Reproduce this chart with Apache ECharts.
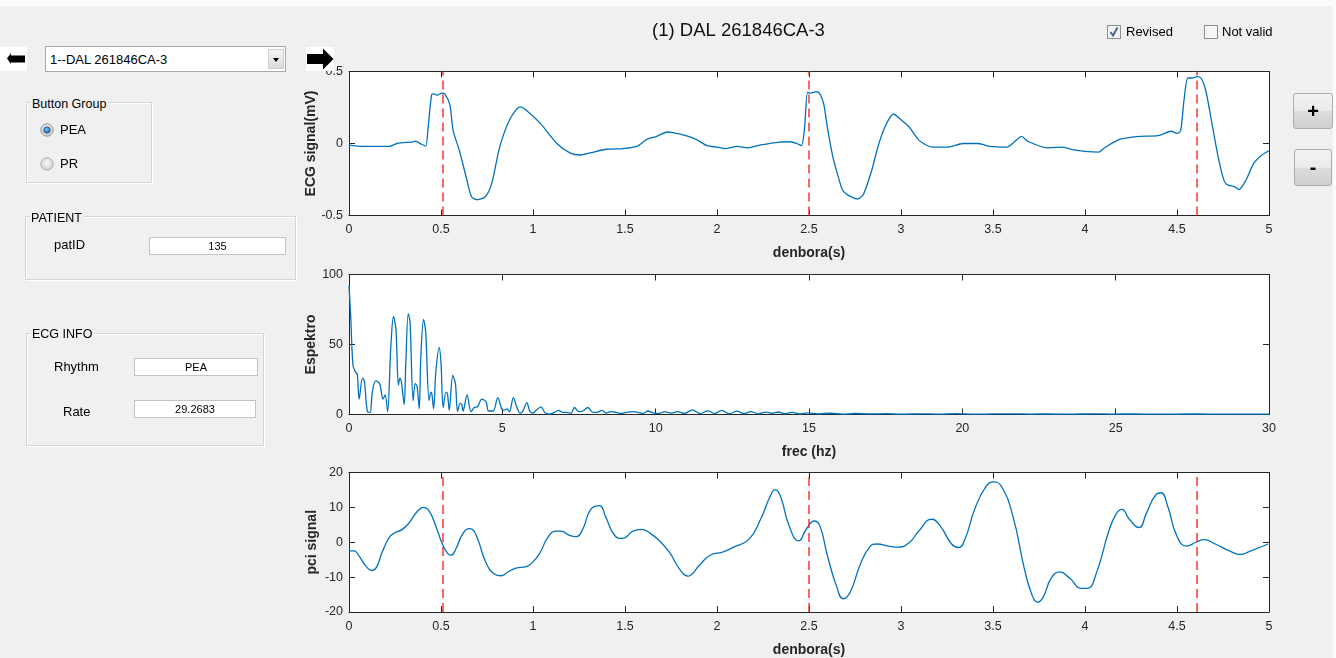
<!DOCTYPE html>
<html>
<head>
<meta charset="utf-8">
<title>(1) DAL 261846CA-3</title>
<script src="https://cdn.jsdelivr.net/npm/echarts@6/dist/echarts.min.js"></script>
<style>
  html, body { margin: 0; padding: 0; }
  body { width: 1336px; height: 658px; background: #f0f0f0; position: relative; overflow: hidden;
         font-family: "Liberation Sans", Arial, sans-serif; color: #000; }
  #chart { position: absolute; left: 0; top: 0; width: 1336px; height: 658px; }
  .w { position: absolute; z-index: 2; }
  .topstrip { left: 0; top: 0; width: 1336px; height: 6px; background: #fbfbfb; }
  .rightstrip { right: 0; top: 0; width: 3px; height: 658px; background: #fbfbfb; }
  .panel { border: 1px solid #d5d5d5; box-shadow: inset 1px 1px 0 #ffffff, 1px 1px 0 #ffffff; }
  .ptitle { font-size: 12.5px; background: #f0f0f0; padding: 0 2px 0 1px; line-height: 14px; }
  .lbl { font-size: 13px; line-height: 16px; }
  .edit { background: #fff; border: 1px solid #c3c3c3; font-size: 11px; text-align: center; box-sizing: border-box; }
  .dd { background: #fff; border: 1px solid #a9a9a9; box-sizing: border-box; font-size: 13px; }
  .ddbtn { position: absolute; right: 1px; top: 2px; width: 16px; height: 20px; box-sizing: border-box;
           background: linear-gradient(#f4f4f4, #dcdcdc); border: 1px solid #cfcfcf; }
  .btn { box-sizing: border-box; border: 1px solid #adadad; border-radius: 3px;
         background: linear-gradient(#f2f2f2 0%, #ebebeb 50%, #dddddd 51%, #cfcfcf 100%);
         font-weight: bold; text-align: center; color: #000; }
</style>
</head>
<body>
<div id="chart"></div>

<div class="w topstrip"></div>
<div class="w rightstrip"></div>

<!-- record navigation -->
<svg class="w" style="left:0;top:47px" width="27" height="24">
  <rect x="0" y="0" width="27" height="24" fill="#ffffff"/>
  <polygon points="7,11.5 11,6 11,8.5 25,8.5 25,15.5 11,15.5 11,17" fill="#000"/>
</svg>
<div class="w dd" style="left:45px;top:46px;width:241px;height:26px;">
  <span style="position:absolute;left:4px;top:4px;line-height:17px;">1--DAL 261846CA-3</span>
  <div class="ddbtn">
    <svg width="14" height="18"><polygon points="4,8 10,8 7,12" fill="#000"/></svg>
  </div>
</div>
<svg class="w" style="left:306px;top:47px" width="28" height="24">
  <rect x="0" y="0" width="28" height="24" fill="#ffffff"/>
  <polygon points="1,7 17,7 17,1.5 27.5,12 17,22.5 17,17 1,17" fill="#000"/>
</svg>

<!-- rhythm selection -->
<div class="w panel" style="left:26px;top:102px;width:124px;height:79px;"></div>
<div class="w ptitle" style="left:31px;top:97px;">Button Group</div>
<svg class="w" style="left:40px;top:123px" width="14" height="14">
  <defs>
    <radialGradient id="rg" cx="0.5" cy="0.4" r="0.6"><stop offset="0" stop-color="#f8f8f8"/><stop offset="1" stop-color="#cfcfcf"/></radialGradient>
    <radialGradient id="dot" cx="0.45" cy="0.4" r="0.6"><stop offset="0" stop-color="#7fc4ff"/><stop offset="1" stop-color="#1a5fa8"/></radialGradient>
  </defs>
  <circle cx="7" cy="7" r="6.2" fill="url(#rg)" stroke="#8a8a8a" stroke-width="0.9"/>
  <circle cx="7" cy="7" r="3.3" fill="url(#dot)" stroke="#23476f" stroke-width="0.6"/>
</svg>
<div class="w lbl" style="left:60px;top:122px;">PEA</div>
<svg class="w" style="left:40px;top:157px" width="14" height="14">
  <circle cx="7" cy="7" r="6.2" fill="url(#rg)" stroke="#a8a8a8" stroke-width="0.9"/>
</svg>
<div class="w lbl" style="left:60px;top:156px;">PR</div>

<!-- patient -->
<div class="w panel" style="left:25px;top:216px;width:269px;height:62px;"></div>
<div class="w ptitle" style="left:30px;top:211px;">PATIENT</div>
<div class="w lbl" style="left:54px;top:237px;">patID</div>
<div class="w edit" style="left:149px;top:237px;width:137px;height:18px;line-height:16px;">135</div>

<!-- ECG info -->
<div class="w panel" style="left:26px;top:333px;width:236px;height:111px;"></div>
<div class="w ptitle" style="left:31px;top:327px;">ECG INFO</div>
<div class="w lbl" style="left:54px;top:359px;">Rhythm</div>
<div class="w edit" style="left:134px;top:358px;width:124px;height:18px;line-height:16px;">PEA</div>
<div class="w lbl" style="left:63px;top:404px;">Rate</div>
<div class="w edit" style="left:134px;top:400px;width:122px;height:18px;line-height:16px;">29.2683</div>

<!-- review flags -->
<svg class="w" style="left:1107px;top:25px" width="15" height="15">
  <rect x="0.5" y="0.5" width="13" height="13" fill="#f3f3f3" stroke="#8e8f8f"/>
  <path d="M3.5,7 L6,10.5 L10.5,2.5" fill="none" stroke="#4a5d94" stroke-width="1.8"/>
</svg>
<div class="w lbl" style="left:1126px;top:24px;">Revised</div>
<svg class="w" style="left:1204px;top:25px" width="15" height="15">
  <rect x="0.5" y="0.5" width="13" height="13" fill="#f6f6f6" stroke="#8e8f8f"/>
</svg>
<div class="w lbl" style="left:1222px;top:24px;">Not valid</div>

<!-- zoom buttons -->
<div class="w btn" style="left:1293px;top:93px;width:40px;height:36px;font-size:20px;line-height:34px;">+</div>
<div class="w btn" style="left:1294px;top:149px;width:38px;height:37px;font-size:20px;line-height:34px;">-</div>

<script>
// ECG lead, time in seconds vs. amplitude in mV
const ecgPoints = [
  [0,-0.01],[0.058,-0.02],[0.22,-0.02],[0.26,0],[0.35,0.012],[0.36,0.017],[0.394,-0.005],[0.417,-0.018],
  [0.43,0.11],[0.449,0.34],[0.462,0.345],[0.478,0.335],[0.503,0.35],[0.52,0.345],[0.548,0.27],[0.566,0.09],
  [0.60,-0.05],[0.64,-0.25],[0.666,-0.37],[0.693,-0.39],[0.74,-0.37],[0.775,-0.28],[0.82,-0.02],[0.875,0.17],
  [0.93,0.255],[0.965,0.23],[1.04,0.14],[1.13,0.0],[1.2,-0.065],[1.256,-0.08],[1.31,-0.065],[1.40,-0.04],
  [1.49,-0.035],[1.565,-0.02],[1.62,0.03],[1.673,0.05],[1.73,0.08],[1.76,0.075],[1.82,0.058],[1.884,0.03],
  [1.946,-0.015],[2.0,-0.025],[2.05,-0.035],[2.11,-0.02],[2.164,-0.03],[2.237,-0.01],[2.34,0.01],[2.40,0.012],
  [2.434,0],[2.459,-0.015],[2.476,0.11],[2.492,0.355],[2.51,0.35],[2.538,0.36],[2.559,0.345],[2.58,0.275],
  [2.60,0.11],[2.63,-0.095],[2.66,-0.235],[2.683,-0.325],[2.714,-0.36],[2.766,-0.385],[2.797,-0.35],[2.84,-0.19],
  [2.88,0.0],[2.92,0.135],[2.96,0.205],[2.995,0.17],[3.047,0.11],[3.10,0.02],[3.17,-0.025],[3.254,-0.025],
  [3.337,0.0],[3.42,0],[3.483,-0.02],[3.576,-0.025],[3.607,0],[3.655,0.05],[3.69,0.015],[3.794,-0.03],
  [3.877,-0.025],[3.94,-0.045],[4.0,-0.055],[4.075,-0.06],[4.106,-0.03],[4.19,0.03],[4.293,0.05],[4.397,0.055],
  [4.47,0.085],[4.50,0.07],[4.52,0.09],[4.538,0.3],[4.559,0.455],[4.584,0.455],[4.608,0.465],[4.63,0.455],
  [4.656,0.37],[4.687,0.16],[4.72,-0.07],[4.75,-0.235],[4.77,-0.285],[4.812,-0.3],[4.837,-0.32],[4.874,-0.257],
  [4.916,-0.14],[4.958,-0.083],[5.0,-0.05]
];

// amplitude spectrum, frequency in Hz
const spectrumPoints = [
  [0,92],[0.054,71],[0.13,35],[0.22,30],[0.27,29],[0.33,11],[0.44,26],[0.5,24],[0.6,2],[0.69,1.5],[0.76,16],
  [0.87,24],[1.0,22],[1.11,11],[1.18,14],[1.26,2],[1.36,47],[1.45,70],[1.53,61],[1.61,21],[1.66,26],[1.71,23],
  [1.8,7],[1.85,35],[1.93,72],[1.99,66],[2.09,10],[2.16,22],[2.22,20],[2.29,4],[2.34,40],[2.43,68],[2.5,59],
  [2.61,10],[2.67,16],[2.7,15],[2.76,4],[2.83,30],[2.94,48],[3.0,37],[3.07,5],[3.16,16],[3.21,15],[3.27,3],
  [3.38,28],[3.47,22],[3.54,2],[3.62,8],[3.68,7],[3.72,2.5],[3.85,14],[3.98,2],[4.08,5],[4.19,5.5],[4.33,11],
  [4.47,9],[4.55,2.5],[4.7,2.5],[4.85,12],[4.98,4],[5.05,3],[5.15,4],[5.23,2],[5.36,12],[5.47,5.5],[5.58,1],
  [5.66,2],[5.8,8.5],[5.9,2],[6.0,1],[6.1,3],[6.26,5.5],[6.4,1],[6.54,0.3],[6.7,1.5],[6.84,3],[6.97,1.5],
  [7.1,1.5],[7.24,0.8],[7.35,5],[7.5,2],[7.63,2.5],[7.79,5],[7.95,1.5],[8.08,1.5],[8.25,3],[8.39,1],[8.52,2],
  [8.71,1.5],[8.88,0.8],[9.04,1.5],[9.26,2],[9.42,1.5],[9.59,0.8],[9.75,2.5],[9.91,1.2],[10.13,0.8],[10.29,2],
  [10.5,1],[10.72,2],[10.94,0.8],[11.2,3.3],[11.45,0.6],[11.7,2.6],[11.93,0.7],[12.15,3.0],[12.4,0.5],
  [12.65,2.4],[12.88,0.6],[13.1,2.0],[13.35,0.5],[13.6,1.7],[13.8,0.9],[14.0,1.8],[14.2,0.6],[14.45,1.5],
  [14.7,0.4],[14.95,1.2],[15.3,0.5],[15.7,0.9],[16.1,0.3],[16.5,0.7],[17.0,0.4],[17.5,0.6],[18.0,0.2],
  [18.6,0.5],[19.2,0.3],[19.8,0.6],[20.4,0.2],[21.0,0.4],[21.6,0.5],[22.2,0.3],[22.8,0.4],[23.5,0.2],
  [24.2,0.5],[24.9,0.3],[25.6,0.4],[26.3,0.2],[27.0,0.3],[27.7,0.4],[28.4,0.2],[29.1,0.3],[30,0.2]
];

// filtered pci signal, time in seconds
const pciPoints = [
  [0,-2.5],[0.027,-2.5],[0.054,-3.9],[0.09,-6.7],[0.123,-8.1],[0.149,-7.2],[0.18,-2.9],[0.218,1.3],[0.245,2.6],
  [0.29,3.7],[0.327,5.6],[0.372,8.9],[0.405,10],[0.436,8.9],[0.472,4.6],[0.508,-0.6],[0.535,-3.1],[0.554,-3.7],
  [0.58,-2],[0.617,2.3],[0.653,3.9],[0.67,3.7],[0.7,0.85],[0.744,-5.8],[0.79,-9.1],[0.826,-9.6],[0.862,-8.6],
  [0.907,-7.4],[0.962,-7.0],[0.989,-6.2],[1.034,-3.4],[1.08,1.3],[1.125,3.2],[1.152,3.2],[1.198,2],[1.234,1.6],
  [1.27,3.7],[1.312,9.3],[1.36,10.5],[1.397,7],[1.443,2],[1.488,1.1],[1.543,3.2],[1.588,3.7],[1.633,2.7],
  [1.688,0.4],[1.742,-2.9],[1.797,-7.7],[1.842,-9.7],[1.853,-9.6],[1.904,-6.6],[1.967,-3.6],[2.03,-2.8],
  [2.09,-1.4],[2.174,0.9],[2.237,6.6],[2.289,13.2],[2.316,15.1],[2.345,13.2],[2.392,4.7],[2.444,0.4],
  [2.486,3.8],[2.528,6.1],[2.559,4.7],[2.6,-3.8],[2.648,-12.3],[2.687,-16.2],[2.725,-14.2],[2.777,-6.6],
  [2.829,-1.4],[2.87,-0.5],[2.932,-1.1],[2.984,-1.4],[3.047,0],[3.098,3.3],[3.167,6.6],[3.213,4.7],[3.275,-0.5],
  [3.313,-1.5],[3.348,0.9],[3.4,9.4],[3.462,16],[3.504,17.3],[3.546,16],[3.608,7.5],[3.67,-7.5],[3.712,-15.1],
  [3.743,-17.2],[3.774,-15.6],[3.815,-10.4],[3.863,-8.5],[3.919,-10.4],[3.98,-13.2],[4.012,-13.2],[4.064,-8.5],
  [4.127,2.8],[4.168,8],[4.2,9.4],[4.241,6.6],[4.293,4.2],[4.335,8.5],[4.386,13.7],[4.413,14.2],[4.449,10.4],
  [4.5,1.7],[4.552,-1.1],[4.604,0],[4.646,0.75],[4.708,-0.5],[4.791,-2.6],[4.843,-3.5],[4.895,-2.6],[4.995,-0.5]
];

// detected beat positions (s)
const beatMarks = [0.505, 2.5, 4.61];

// axis ranges: [min, max, interval]
const timeRange = [0, 5, 0.5];
const freqRange = [0, 30, 5];
const ecgRange = [-0.5, 0.5, 0.5];
const specRange = [0, 100, 50];
const pciRange = [-20, 20, 10];

const AX = '#262626';
const LINE = '#0072BD';
const FONT = 'Liberation Sans, Arial, sans-serif';

const grids = [
  { left: 349, top: 71.5, width: 920, height: 144 },
  { left: 349, top: 274.5, width: 920, height: 140 },
  { left: 349, top: 472.5, width: 920, height: 141.5 }
];

function axisBase(gi, r) {
  return {
    type: 'value', gridIndex: gi, min: r[0], max: r[1], interval: r[2],
    axisLine: { show: true, onZero: false, lineStyle: { color: AX, width: 1 } },
    axisTick: { show: true, inside: true, length: 6, lineStyle: { color: AX, width: 1 } },
    splitLine: { show: false }
  };
}

function xPair(gi, r, name) {
  return [
    Object.assign(axisBase(gi, r), {
      position: 'bottom',
      axisLabel: { color: AX, fontSize: 12.5, fontFamily: FONT, margin: 8 },
      name: name, nameLocation: 'middle', nameGap: 31, nameMoveOverlap: false,
      nameTextStyle: { color: AX, fontSize: 14, fontWeight: 'bold', fontFamily: FONT }
    }),
    Object.assign(axisBase(gi, r), { position: 'top', axisLabel: { show: false } })
  ];
}

function yPair(gi, r, name, gap) {
  return [
    Object.assign(axisBase(gi, r), {
      position: 'left',
      axisLabel: { color: AX, fontSize: 12.5, fontFamily: FONT, margin: 6 },
      name: name, nameLocation: 'middle', nameGap: gap, nameRotate: 90, nameMoveOverlap: false,
      nameTextStyle: { color: AX, fontSize: 14, fontWeight: 'bold', fontFamily: FONT }
    }),
    Object.assign(axisBase(gi, r), { position: 'right', axisLabel: { show: false } })
  ];
}

const beatLines = {
  silent: true, symbol: 'none', label: { show: false }, animation: false,
  lineStyle: { color: '#ff2020', type: [9, 5], width: 1.6, opacity: 0.85 },
  data: beatMarks.map(function (t) { return { xAxis: t }; })
};

const option = {
  animation: false,
  backgroundColor: 'transparent',
  grid: grids.map(function (g) {
    return Object.assign({ show: true, backgroundColor: '#ffffff', borderWidth: 0, containLabel: false }, g);
  }),
  xAxis: [].concat(
    xPair(0, timeRange, 'denbora(s)'),
    xPair(1, freqRange, 'frec (hz)'),
    xPair(2, timeRange, 'denbora(s)')
  ),
  yAxis: [].concat(
    yPair(0, ecgRange, 'ECG signal(mV)', 31),
    yPair(1, specRange, 'Espektro', 31),
    yPair(2, pciRange, 'pci signal', 30)
  ),
  graphic: [{
    type: 'text', x: 738.5, y: 31,
    style: { text: '(1) DAL 261846CA-3', fill: '#111', font: '18.5px Liberation Sans, Arial, sans-serif',
             textAlign: 'center', textVerticalAlign: 'middle' }
  }],
  series: [
    {
      name: 'ECG', type: 'line', xAxisIndex: 0, yAxisIndex: 0, data: ecgPoints,
      showSymbol: false, smooth: 0.25, lineStyle: { color: LINE, width: 1.3 }, markLine: beatLines
    },
    {
      name: 'Espektro', type: 'line', xAxisIndex: 2, yAxisIndex: 2, data: spectrumPoints,
      showSymbol: false, smooth: 0.3, lineStyle: { color: LINE, width: 1.3 }
    },
    {
      name: 'pci', type: 'line', xAxisIndex: 4, yAxisIndex: 4, data: pciPoints,
      showSymbol: false, smooth: 0.5, lineStyle: { color: LINE, width: 1.3 }, markLine: beatLines
    }
  ]
};

const chart = echarts.init(document.getElementById('chart'), null, { renderer: 'canvas' });
chart.setOption(option);
</script>
</body>
</html>
